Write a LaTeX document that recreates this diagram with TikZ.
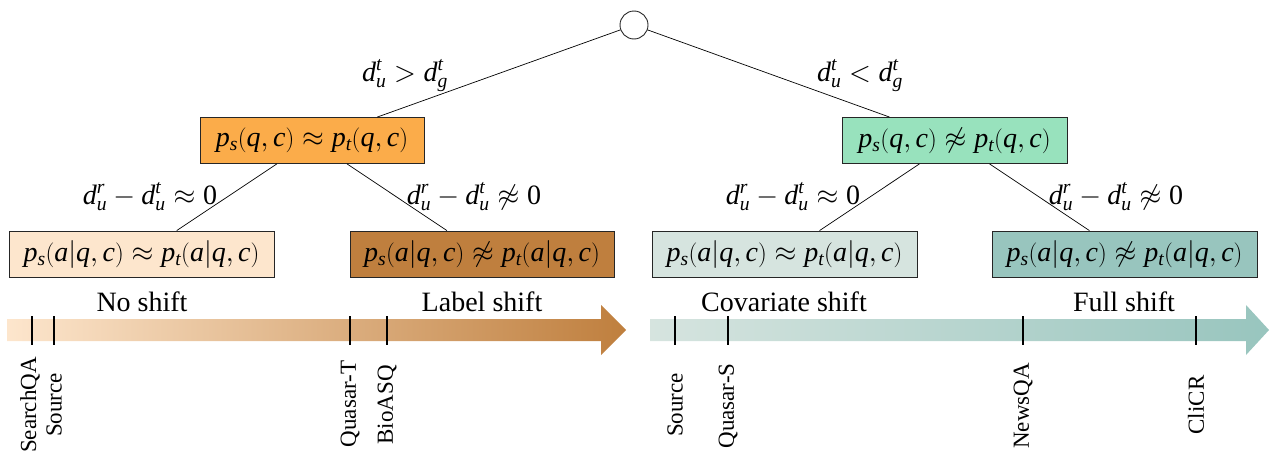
\documentclass[tikz,border=0pt]{standalone}
\usepackage{fontspec}
\setmainfont{Liberation Serif}
\DeclareFontShape{OMS}{cmsy}{m}{n}{<->cmsy10}{}
\DeclareFontShape{OML}{cmm}{m}{it}{<->cmmi10}{}
\definecolor{orangebox}{RGB}{251,172,74}
\definecolor{greenbox}{RGB}{152,226,189}
\definecolor{peachbox}{RGB}{253,230,205}
\definecolor{brownbox}{RGB}{191,127,62}
\definecolor{graybox}{RGB}{214,228,223}
\definecolor{tealbox}{RGB}{152,197,190}
\newcommand{\myL}{\mathopen{\mathrm{(}}}
\newcommand{\myR}{\mathclose{\mathrm{)}}}
\newcommand{\myBar}{\mathord{\mathrm{|}}}
\newcommand{\myPQC}[1]{\mathit{p}_{\mathit{#1}}\myL\mathit{q},\mathit{c}\myR}
\newcommand{\myPA}[1]{\mathit{p}_{\mathit{#1}}\myL\mathit{a}\myBar\mathit{q},\mathit{c}\myR}
\newcommand{\myDU}[1]{\mathit{d}^{\mathit{#1}}_{\mathit{u}}}
\newcommand{\myDG}{\mathit{d}^{\mathit{t}}_{\mathit{g}}}
\begin{document}
\begin{tikzpicture}[x=1pt,y=-1pt,
  font=\fontsize{28}{32}\selectfont,
  box/.style={draw=black!85, line width=0.9pt, minimum height=46pt, inner sep=0pt},
  edge/.style={draw=black, line width=0.7pt},
  elabel/.style={inner sep=0pt},
  tick/.style={line width=1.4pt},
  ds/.style={rotate=90, inner sep=0pt, font=\fontsize{23}{26}\selectfont}]
\useasboundingbox (0,0) rectangle (1276,455);
% tree
\node[draw=black!85, line width=0.9pt, circle, minimum size=28pt, inner sep=0pt] (root) at (634,25) {};
\node[box, fill=orangebox, minimum width=224pt] (qa) at (312,140.5) {$\myPQC{s} \approx \myPQC{t}$};
\node[box, fill=greenbox, minimum width=225pt] (qb) at (954.5,140.5) {$\myPQC{s} \not\approx \myPQC{t}$};
\node[box, fill=peachbox, minimum width=265pt] (ll) at (141.5,254) {$\myPA{s} \approx \myPA{t}$};
\node[box, fill=brownbox, minimum width=264pt] (lr) at (482,254) {$\myPA{s} \not\approx \myPA{t}$};
\node[box, fill=graybox, minimum width=265pt] (rl) at (784.5,254) {$\myPA{s} \approx \myPA{t}$};
\node[box, fill=tealbox, minimum width=265pt] (rr) at (1124.5,254) {$\myPA{s} \not\approx \myPA{t}$};
\draw[edge] (root) -- (qa);
\draw[edge] (root) -- (qb);
\draw[edge] (qa) -- (ll);
\draw[edge] (qa) -- (lr);
\draw[edge] (qb) -- (rl);
\draw[edge] (qb) -- (rr);
\node[elabel] (e1) at (405,76) {$\myDU{t} > \myDG$};
\node[elabel] (e2) at (860,76) {$\myDU{t} < \myDG$};
\node[elabel] (e3) at (150,197) {$\myDU{r} - \myDU{t} \approx \mathrm{0}$};
\node[elabel] (e4) at (474,197) {$\myDU{r} - \myDU{t} \not\approx \mathrm{0}$};
\node[elabel] (e5) at (793,197) {$\myDU{r} - \myDU{t} \approx \mathrm{0}$};
\node[elabel] (e6) at (1116,197) {$\myDU{r} - \myDU{t} \not\approx \mathrm{0}$};
% category labels
\node[anchor=base, inner sep=0pt] (c1) at (142,311) {No shift};
\node[anchor=base, inner sep=0pt] (c2) at (482,311) {Label shift};
\node[anchor=base, inner sep=0pt] (c3) at (784,311) {Covariate shift};
\node[anchor=base, inner sep=0pt] (c4) at (1124,311) {Full shift};
% arrows
\shade[left color=peachbox, right color=brownbox] (7,319) -- (601,319) -- (601,305) -- (626,330) -- (601,355) -- (601,341) -- (7,341) -- cycle;
\shade[left color=graybox, right color=tealbox] (650,319) -- (1246,319) -- (1246,305) -- (1269,330) -- (1246,355) -- (1246,341) -- (650,341) -- cycle;
% ticks
\foreach \x in {32,54,350,387,675,728,1023,1196} \draw[tick] (\x,316) -- (\x,345);
\node[ds] (d1) at (30,405) {SearchQA};
\node[ds] (d2) at (54,405) {Source};
\node[ds] (d3) at (350,404) {Quasar-T};
\node[ds] (d4) at (387,405) {BioASQ};
\node[ds] (d5) at (675,405) {Source};
\node[ds] (d6) at (728,406) {Quasar-S};
\node[ds] (d7) at (1023,406) {NewsQA};
\node[ds] (d8) at (1196,405) {CliCR};
\end{tikzpicture}
\end{document}
